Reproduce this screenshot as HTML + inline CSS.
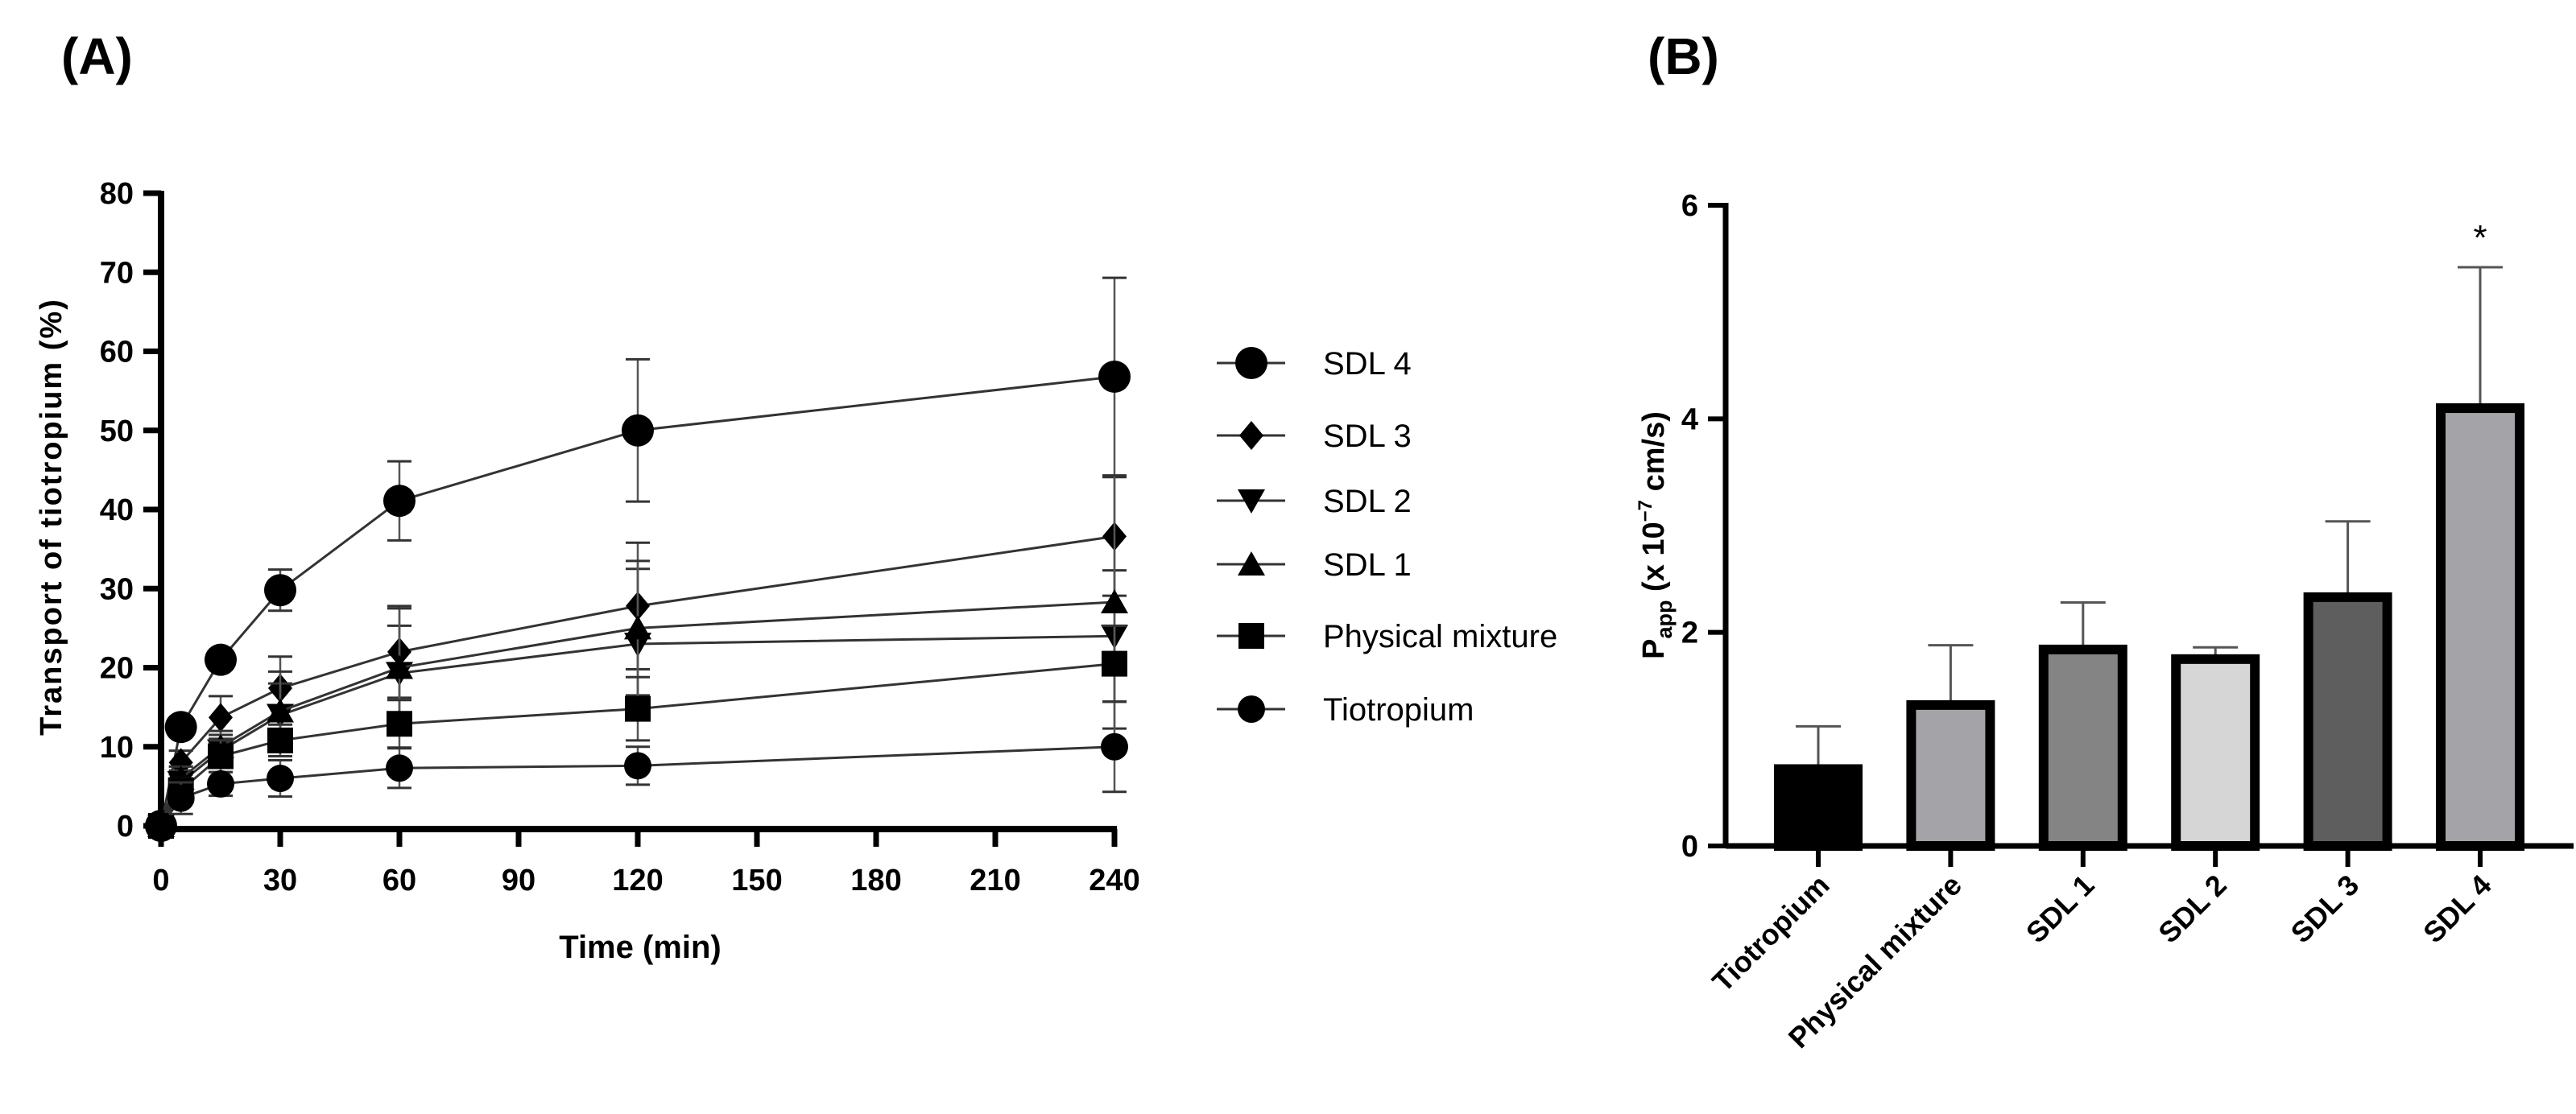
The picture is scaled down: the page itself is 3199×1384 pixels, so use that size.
<!DOCTYPE html>
<html><head><meta charset="utf-8"><style>
html,body{margin:0;padding:0;background:#fff;}
svg{display:block;font-family:"Liberation Sans",sans-serif;}
</style></head><body>
<svg id="svg" width="3199" height="1384" viewBox="0 0 3199 1384" xmlns="http://www.w3.org/2000/svg">
<text x="76" y="92" font-size="64" font-weight="bold">(A)</text>
<text x="2046" y="92" font-size="64" font-weight="bold">(B)</text>
<g id="gA"></g>
<g id="gL"></g>
<g id="gB"></g>
</svg>
<script>
const times=[0,5,15,30,60,120,240];
const seriesNames=["SDL 4","SDL 3","SDL 2","SDL 1","Physical mixture","Tiotropium"];
const sdl4=[0,12.5,21,29.8,41.1,50,56.8];
const sdl4Err=[0,1,1,2.6,5,9,12.5];
const sdl3=[0,8,13.7,17.4,22,27.8,36.6];
const sdl3Err=[0,1.5,2.7,4,5.8,8,7.5];
const sdl2=[0,5.5,9.5,14,19.3,23,24];
const sdl2Err=[0,1.5,2,4,6,9.5,8.3];
const sdl1=[0,6,10,14.5,20,25,28.3];
const sdl1Err=[0,1.5,2,5,7.5,8.5,16];
const pmix=[0,4.5,8.8,10.8,12.9,14.8,20.5];
const pmixErr=[0,1.5,2,2,3,4,4.8];
const tio=[0,3.5,5.3,6,7.3,7.6,10];
const tioErr=[0,2,1.5,2.3,2.5,2.4,5.7];
const xTicks=[0,30,60,90,120,150,180,210,240];
const yTicks=[0,10,20,30,40,50,60,70,80];
const barCats=["Tiotropium","Physical mixture","SDL 1","SDL 2","SDL 3","SDL 4"];
const barVals=[0.72,1.32,1.84,1.75,2.33,4.1];
const barErr=[0.4,0.56,0.44,0.11,0.71,1.32];
const barTicks=[0,2,4,6];

const NS="http://www.w3.org/2000/svg";
function mk(p,t,a){const e=document.createElementNS(NS,t);for(const k in a)e.setAttribute(k,a[k]);p.appendChild(e);return e;}
const gA=document.getElementById('gA'),gL=document.getElementById('gL'),gB=document.getElementById('gB');
const X=v=>200+v*(1384-200)/240, Y=v=>1026-v*(1026-240)/80;
let e=mk(gA,'line',{x1:200,y1:1030,x2:1387,y2:1030,stroke:'#000','stroke-width':8});

e=mk(gA,'line',{x1:200,y1:237,x2:200,y2:1034,stroke:'#000','stroke-width':8});

xTicks.forEach(t=>{mk(gA,'line',{x1:X(t),y1:1030,x2:X(t),y2:1052,stroke:'#000','stroke-width':7});
 const tx=mk(gA,'text',{x:X(t),y:1106,'font-size':38,'font-weight':'bold','text-anchor':'middle'});tx.textContent=t;
 });
yTicks.forEach(t=>{mk(gA,'line',{x1:178,y1:Y(t),x2:200,y2:Y(t),stroke:'#000','stroke-width':7});
 const tx=mk(gA,'text',{x:166,y:Y(t)+13,'font-size':38,'font-weight':'bold','text-anchor':'end'});tx.textContent=t;
 });
e=mk(gA,'text',{x:795,y:1190,'font-size':40,'font-weight':'bold','text-anchor':'middle'});e.textContent='Time (min)';

e=mk(gA,'text',{x:76,y:642,'font-size':38,'font-weight':'bold','text-anchor':'middle',transform:'rotate(-90 76 642)','letter-spacing':'2'});e.textContent='Transport of tiotropium (%)';

function marker(g,shape,cx,cy){
 if(shape==='bigcircle')return mk(g,'circle',{cx,cy,r:20});
 if(shape==='circle')return mk(g,'circle',{cx,cy,r:17});
 if(shape==='diamond')return mk(g,'polygon',{points:`${cx},${cy-18} ${cx+15},${cy} ${cx},${cy+18} ${cx-15},${cy}`});
 if(shape==='down')return mk(g,'polygon',{points:`${cx-17},${cy-14} ${cx+17},${cy-14} ${cx},${cy+16}`});
 if(shape==='up')return mk(g,'polygon',{points:`${cx-17},${cy+14} ${cx+17},${cy+14} ${cx},${cy-16}`});
 return mk(g,'rect',{x:cx-16,y:cy-16,width:32,height:32});
}
const S=[[sdl4,sdl4Err,'bigcircle'],[sdl3,sdl3Err,'diamond'],[sdl2,sdl2Err,'down'],[sdl1,sdl1Err,'up'],[pmix,pmixErr,'square'],[tio,tioErr,'circle']];
S.forEach(([v,er,sh],i)=>{
 const g=mk(gA,'g',{});
 
 
 v.forEach((d,j)=>{if(er[j]>0){const x=X(times[j]);
  mk(g,'line',{x1:x,y1:Y(d-er[j]),x2:x,y2:Y(d+er[j]),stroke:'#555','stroke-width':2.5});
  [d-er[j],d+er[j]].forEach(q=>mk(g,'line',{x1:x-15,y1:Y(q),x2:x+15,y2:Y(q),stroke:'#333','stroke-width':3}));}});
 mk(g,'polyline',{points:v.map((d,j)=>X(times[j])+','+Y(d)).join(' '),fill:'none',stroke:'#333','stroke-width':3});
 v.forEach((d,j)=>{const m=marker(g,sh,X(times[j]),Y(d));m.setAttribute('fill','#000');
  });
});
const legY=[451,541,622,701,790,881];
seriesNames.forEach((n,i)=>{const y=legY[i];const g=mk(gL,'g',{});
 
 mk(g,'line',{x1:1511,y1:y,x2:1596,y2:y,stroke:'#333','stroke-width':3});
 marker(g,S[i][2],1554,y).setAttribute('fill','#000');
 const t=mk(g,'text',{x:1643,y:y+14,'font-size':40});t.textContent=n;});
// panel B
const BX0=2143,BY=v=>1051-v*(1051-255)/6;
const fills=['#000','#a4a3a8','#848484','#d6d6d6','#5e5e5e','#a4a3a8'];
barCats.forEach((c,i)=>{const cx=2258+i*164.4;
 const v=barVals[i];
 mk(gB,'line',{x1:cx,y1:BY(v),x2:cx,y2:BY(v+barErr[i]),stroke:'#555','stroke-width':3});
 mk(gB,'line',{x1:cx-28,y1:BY(v+barErr[i]),x2:cx+28,y2:BY(v+barErr[i]),stroke:'#555','stroke-width':3});
 const r=mk(gB,'rect',{x:cx-49,y:BY(v),width:98,height:BY(0)-BY(v),fill:fills[i],stroke:'#000','stroke-width':12});
 
 mk(gB,'line',{x1:cx,y1:1051,x2:cx,y2:1077,stroke:'#000','stroke-width':6});
 const t=mk(gB,'text',{x:cx+16,y:1102,'font-size':36,'font-weight':'bold','text-anchor':'end',transform:`rotate(-45 ${cx+16} 1102)`});t.textContent=c;
 
});
e=mk(gB,'line',{x1:BX0,y1:1051,x2:3196,y2:1051,stroke:'#000','stroke-width':7});

e=mk(gB,'line',{x1:BX0,y1:252,x2:BX0,y2:1054,stroke:'#000','stroke-width':7});

barTicks.forEach(t=>{mk(gB,'line',{x1:BX0-22,y1:BY(t),x2:BX0,y2:BY(t),stroke:'#000','stroke-width':6});
 const tx=mk(gB,'text',{x:BX0-34,y:BY(t)+13,'font-size':38,'font-weight':'bold','text-anchor':'end'});tx.textContent=t;
 });
e=mk(gB,'text',{x:3080,y:BY(barVals[5]+barErr[5])-22,'font-size':44,'text-anchor':'middle'});e.textContent='*';

e=mk(gB,'text',{x:2066,y:665,'font-size':38,'font-weight':'bold','text-anchor':'middle',transform:'rotate(-90 2066 665)'});
e.innerHTML='P<tspan font-size="27" dy="10">app</tspan><tspan dy="-10"> (x 10</tspan><tspan font-size="24" dy="-15">−7</tspan><tspan dy="15"> cm/s)</tspan>';

</script>
</body></html>
